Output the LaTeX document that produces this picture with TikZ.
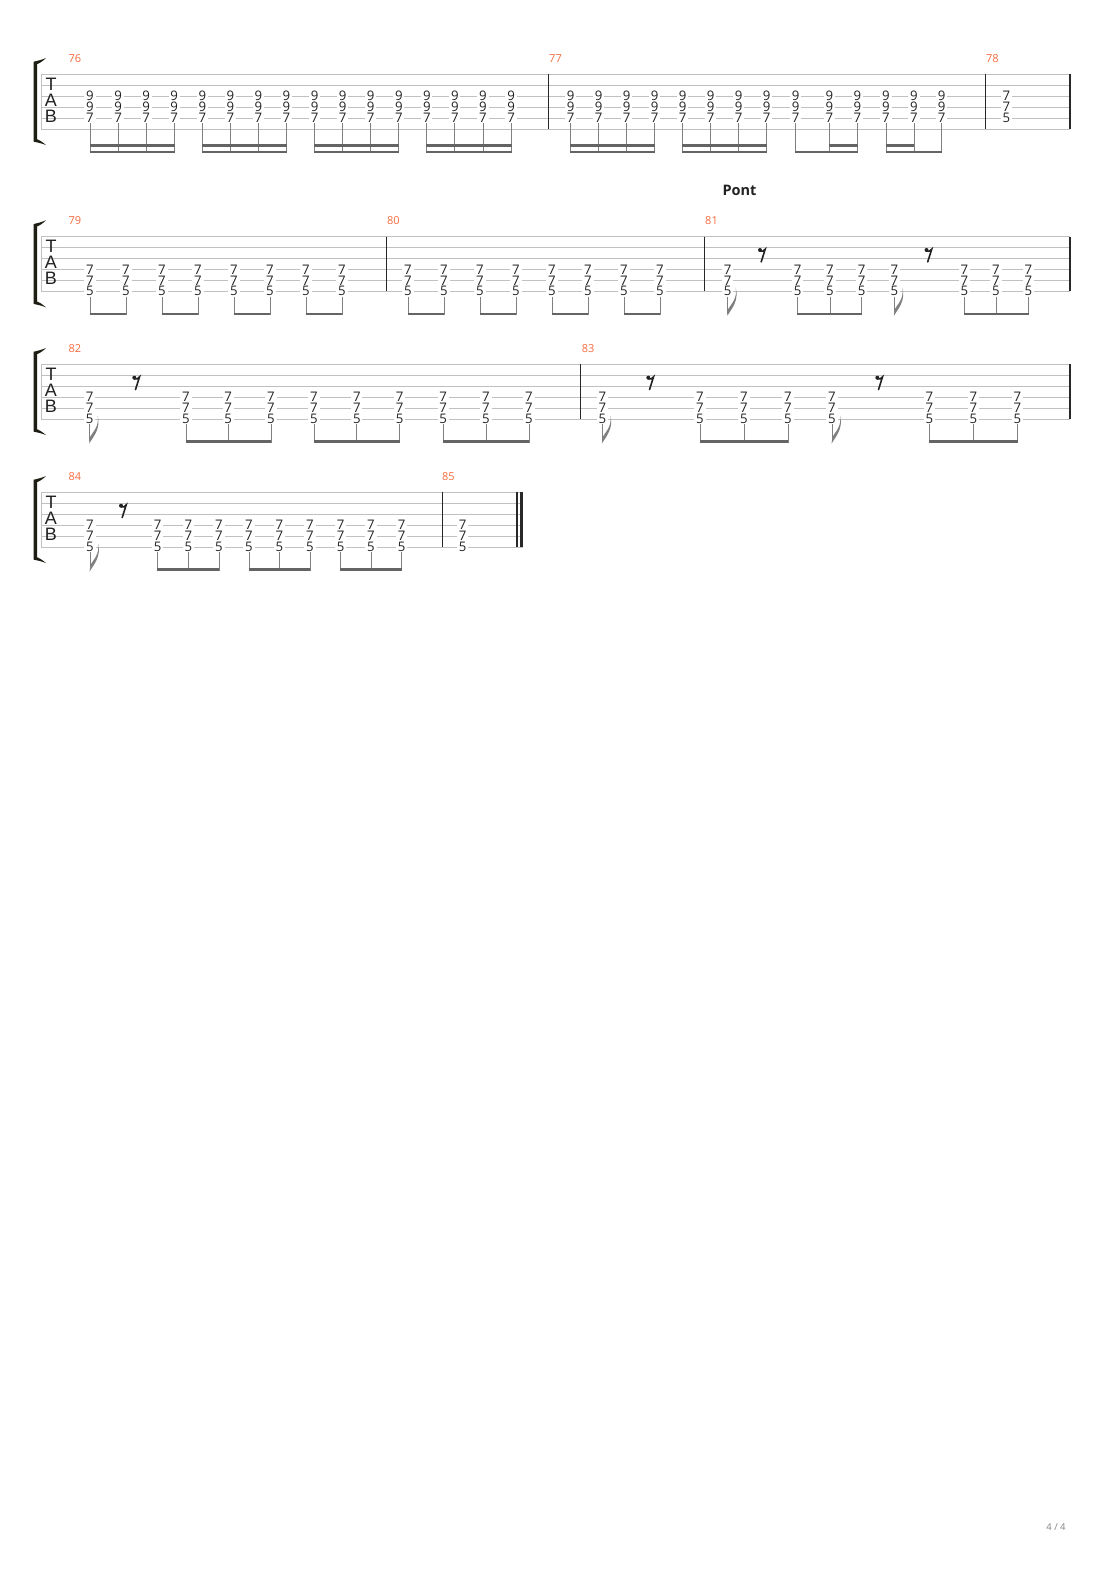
\documentclass[tikz,border=0pt]{standalone}
\usepackage{fontspec}
\setmainfont{Open Sans}
\setsansfont{Liberation Sans}
\definecolor{mnum}{RGB}{246,108,62}
\definecolor{sline}{RGB}{192,192,192}
\definecolor{barc}{RGB}{40,40,40}
\definecolor{stemc}{RGB}{128,128,128}
\definecolor{beamc}{RGB}{100,100,100}
\definecolor{brk}{RGB}{30,30,20}
\definecolor{digc}{RGB}{34,34,34}
\definecolor{pgc}{RGB}{130,130,130}
\tikzset{
 staffline/.style={draw=sline, line width=0.9pt},
 barline/.style={draw=barc, line width=1.2pt},
 fret/.style={fill=white, inner xsep=1.8pt, inner ysep=0pt, font=\fontsize{13.2}{13}\selectfont, text=digc},
 mnumber/.style={anchor=west, inner sep=0pt, text=mnum, font=\fontsize{11}{11}\selectfont},
 tabletter/.style={inner sep=0pt, font=\sffamily\fontsize{18}{18}\selectfont, text=digc},
 stemline/.style={draw=stemc, line width=0.9pt},
 beamline/.style={draw=beamc, line width=2.5pt},
}
% staff: name, top, left, right
\newcommand\tabstaff[4]{%
 \foreach \k in {0,...,5}{\draw[staffline] (#3,{#2+\k*10.95}) -- (#4,{#2+\k*10.95});}
 \draw[staffline] (#3,#2) -- (#3,{#2+54.75});
 \fill[brk] (33.5,{#2-12.5}) -- (33.5,{#2+67.3}) .. controls (38,{#2+68.3}) and (42,{#2+69}) .. (46,{#2+70.8}) .. controls (42,{#2+67.2}) and (39,{#2+65.6}) .. (37,{#2+65}) -- (37,{#2-10.2}) .. controls (39,{#2-10.8}) and (42,{#2-12.4}) .. (46,{#2-16.3}) .. controls (42,{#2-14.5}) and (38,{#2-13.6}) .. cycle;
 \node[tabletter] (#1T) at (51,{#2+10.2}) {T};
 \node[tabletter] (#1A) at (51,{#2+26.2}) {A};
 \node[tabletter] (#1B) at (51,{#2+41.9}) {B};
}
% chord: name, x, y of top digit, three digits
\newcommand\chd[6]{%
 \node[fret] (#1a) at (#2,{#3}) {#4};
 \node[fret] (#1b) at (#2,{#3+10.95}) {#5};
 \node[fret] (#1c) at (#2,{#3+21.9}) {#6};
}
% 7/7/5 chord with stem (systems 2-4): name, x, top
\newcommand\cs[3]{%
 \chd{#1}{#2}{#3+32.85}{7}{7}{5}
 \draw[stemline] (#2,{#3+60}) -- (#2,{#3+78.8});
}
% 7/7/5 chord with flag: name, x, top
\newcommand\cf[3]{%
 \chd{#1}{#2}{#3+32.85}{7}{7}{5}
 \draw[stemline] (#2,{#3+60}) -- (#2,{#3+77});
 \fill[stemc] ({#2-0.45},{#3+79.3}) .. controls ({#2+4},{#3+72}) and ({#2+11.5},{#3+64}) .. ({#2+8},{#3+51}) .. controls ({#2+10},{#3+62}) and ({#2+3},{#3+68}) .. ({#2+0.45},{#3+72.5}) -- cycle;
}
% eighth rest: x of dot, top
\newcommand\erest[2]{%
 \fill[digc] (#1,{#2+13.4}) circle[radius=2pt];
 \draw[digc, line width=1.6pt, line cap=round] (#1,{#2+14.6}) .. controls ({#1+2},{#2+15.6}) and ({#1+4},{#2+14.2}) .. ({#1+5.2},{#2+12.6}) -- ({#1+1.2},{#2+25.3});
}
% beam: top, x1, x2, offset
\newcommand\bm[4]{%
 \draw[beamline] ({#2-0.45},{#1+#4}) -- ({#3+0.45},{#1+#4});
}
\newcommand\bl[2]{\draw[barline] (#1,#2) -- (#1,{#2+54.75});}
\begin{document}
\begin{tikzpicture}[x=1pt,y=-1pt]
\fill[white] (0,0) rectangle (1110,1570);
\useasboundingbox (0,0) rectangle (1110,1570);

%================ System 1
\def\Ta{74.3}
\tabstaff{sa}{\Ta}{41}{1070}
\bl{548.3}{\Ta}\bl{985.7}{\Ta}\bl{1070}{\Ta}
\node[mnumber] (m76) at (68.3,{\Ta-16}) {76};
\node[mnumber] (m77) at (549,{\Ta-16}) {77};
\node[mnumber] (m78) at (985.8,{\Ta-16}) {78};
\foreach \i in {0,...,15}{
 \pgfmathsetmacro\x{90+28.07*\i}
 \chd{pa\i}{\x}{\Ta+21.9}{9}{9}{7}
 \draw[stemline] (\x,{\Ta+49}) -- (\x,{\Ta+78.8});
}
\foreach \g in {0,...,3}{
 \pgfmathsetmacro\xa{90+28.07*4*\g}
 \pgfmathsetmacro\xb{\xa+28.07*3}
 \bm{\Ta}{\xa}{\xb}{77.6}
 \bm{\Ta}{\xa}{\xb}{71.2}
}
\foreach \x [count=\n] in {570.7,598.7,626.7,654.7,682.7,710.7,738.7,766.7,795.7,829.3,857.3,886,914,941.7}{
 \chd{pb\n}{\x}{\Ta+21.9}{9}{9}{7}
 \draw[stemline] (\x,{\Ta+49}) -- (\x,{\Ta+78.8});
}
\bm{\Ta}{570.7}{654.7}{77.6}\bm{\Ta}{570.7}{654.7}{71.2}
\bm{\Ta}{682.7}{766.7}{77.6}\bm{\Ta}{682.7}{766.7}{71.2}
\bm{\Ta}{795.7}{857.3}{77.6}\bm{\Ta}{829.3}{857.3}{71.2}
\bm{\Ta}{886}{941.7}{77.6}\bm{\Ta}{886}{914}{71.2}
\chd{pc}{1006.5}{\Ta+21.9}{7}{7}{5}

%================ System 2
\def\Tb{236.6}
\node[font=\bfseries\fontsize{14.5}{14}\selectfont, text=digc] (pont) at (739.5,190.5) {Pont};
\tabstaff{sb}{\Tb}{41}{1070}
\bl{386.7}{\Tb}\bl{704.3}{\Tb}\bl{1070}{\Tb}
\node[mnumber] (m79) at (68.3,{\Tb-16}) {79};
\node[mnumber] (m80) at (386.9,{\Tb-16}) {80};
\node[mnumber] (m81) at (705,{\Tb-16}) {81};
\foreach \i in {0,...,7}{
 \pgfmathsetmacro\x{90+36*\i}
 \cs{qa\i}{\x}{\Tb}
 \pgfmathsetmacro\y{408+36*\i}
 \cs{qb\i}{\y}{\Tb}
}
\foreach \g in {0,...,3}{
 \pgfmathsetmacro\xa{90+72*\g}
 \pgfmathsetmacro\xb{\xa+36}
 \bm{\Tb}{\xa}{\xb}{77.3}
 \pgfmathsetmacro\xc{408+72*\g}
 \pgfmathsetmacro\xd{\xc+36}
 \bm{\Tb}{\xc}{\xd}{77.3}
}
\cf{qc1}{727.7}{\Tb}
\erest{760}{\Tb}
\cs{qc2}{797.7}{\Tb}\cs{qc3}{830}{\Tb}\cs{qc4}{861.7}{\Tb}
\bm{\Tb}{797.7}{861.7}{77.3}
\cf{qc5}{894.3}{\Tb}
\erest{926.5}{\Tb}
\cs{qc6}{964.3}{\Tb}\cs{qc7}{996}{\Tb}\cs{qc8}{1028.3}{\Tb}
\bm{\Tb}{964.3}{1028.3}{77.3}

%================ System 3
\def\Tc{364.3}
\tabstaff{sc}{\Tc}{41}{1070}
\bl{580.8}{\Tc}\bl{1070}{\Tc}
\node[mnumber] (m82) at (68.3,{\Tc-16}) {82};
\node[mnumber] (m83) at (581.6,{\Tc-16}) {83};
\cf{ra1}{89.6}{\Tc}
\erest{134.3}{\Tc}
\foreach \x [count=\n] in {186,228.2,271,314,356.8,399.6,443.2,486,529}{\cs{ra\n x}{\x}{\Tc}}
\bm{\Tc}{186}{271}{77.3}\bm{\Tc}{314}{399.6}{77.3}\bm{\Tc}{443.2}{529}{77.3}
\cf{rb1}{602.3}{\Tc}
\erest{648.3}{\Tc}
\cs{rb2}{700}{\Tc}\cs{rb3}{744}{\Tc}\cs{rb4}{788}{\Tc}
\bm{\Tc}{700}{788}{77.3}
\cf{rb5}{832}{\Tc}
\erest{877.3}{\Tc}
\cs{rb6}{929.3}{\Tc}\cs{rb7}{973.3}{\Tc}\cs{rb8}{1017.3}{\Tc}
\bm{\Tc}{929.3}{1017.3}{77.3}

%================ System 4
\def\Td{492.3}
\tabstaff{sd}{\Td}{41}{523}
\bl{442.3}{\Td}\bl{517}{\Td}
\draw[draw=barc, line width=3pt] (521.5,\Td) -- (521.5,{\Td+54.75});
\node[mnumber] (m84) at (68.3,{\Td-16}) {84};
\node[mnumber] (m85) at (441.9,{\Td-16}) {85};
\cf{sa1}{90}{\Td}
\erest{121}{\Td}
\foreach \x [count=\n] in {157.7,188.3,219,249,279.3,310,340.7,371,401.7}{\cs{sa\n x}{\x}{\Td}}
\bm{\Td}{157.7}{219}{77.3}\bm{\Td}{249}{310}{77.3}\bm{\Td}{340.7}{401.7}{77.3}
\chd{sb}{462.7}{\Td+32.85}{7}{7}{5}

\node[font=\fontsize{9.5}{9}\selectfont, text=pgc] (pg) at (1056,1527.5) {4 / 4};
\end{tikzpicture}
\end{document}
